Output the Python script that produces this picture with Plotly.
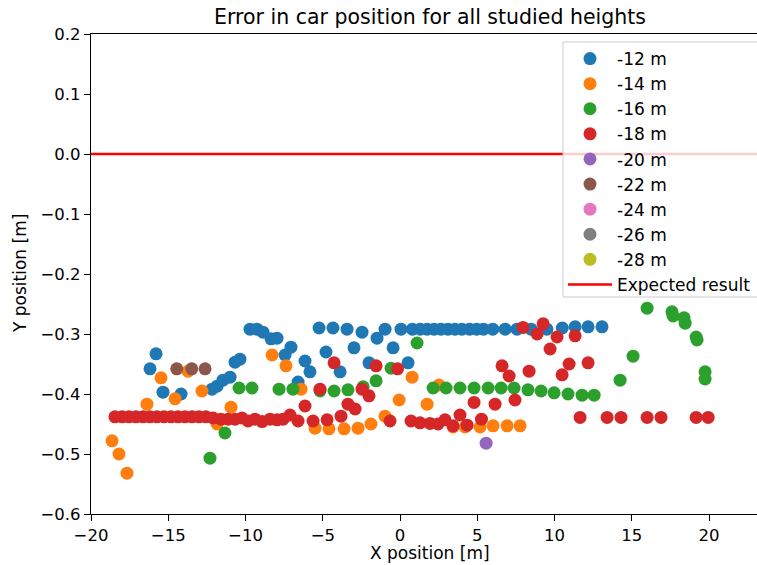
import plotly.graph_objects as go

# Car position error per studied height (metres)
x_12 = [-16.18, -15.79, -15.34, -14.17, -12.17, -11.84, -11.46, -11.0, -10.68, -10.36,
        -9.71, -9.26, -8.87, -8.35, -7.96, -7.06, -7.44, -6.15, -5.83, -6.6,
        -5.24, -4.34, -3.43, -2.46, -0.97, -1.49, 0.06, -4.79, -2.98, -0.45,
        -3.88, -2.01, 0.52, 0.8, 1.3, 1.75, 2.2, 2.65, 3.1, 3.55, 4.0, 4.5,
        4.95, 5.4, 6.0, 6.8, 7.57, 8.48, 9.5, 10.5, 11.33, 12.17, 13.07]
y_12 = [-0.358, -0.333, -0.397, -0.400, -0.392, -0.387, -0.377, -0.372, -0.347, -0.342,
        -0.292, -0.292, -0.297, -0.308, -0.307, -0.322, -0.335, -0.345, -0.363, -0.380,
        -0.290, -0.290, -0.292, -0.297, -0.292, -0.307, -0.292, -0.330, -0.323, -0.323,
        -0.363, -0.348, -0.348, -0.292, -0.292, -0.292, -0.292, -0.292, -0.292, -0.292,
        -0.292, -0.292, -0.292, -0.292, -0.292, -0.292, -0.292, -0.292, -0.292, -0.290,
        -0.288, -0.288, -0.288]

x_14 = [-18.64, -18.19, -17.67, -16.38, -15.47, -14.56, -13.72, -12.82, -11.84, -10.94,
        -8.28, -7.38, -6.41, -5.5, -4.6, -3.62, -2.72, -1.88, -0.97, -0.06,
        0.78, 1.75, 2.52, 3.43, 4.21, 5.18, 6.02, 6.93, 7.77]
y_14 = [-0.478, -0.500, -0.532, -0.417, -0.373, -0.408, -0.362, -0.395, -0.450, -0.422,
        -0.335, -0.353, -0.392, -0.457, -0.458, -0.458, -0.457, -0.450, -0.437, -0.410,
        -0.372, -0.417, -0.385, -0.455, -0.455, -0.455, -0.453, -0.453, -0.453]

x_16 = [-12.3, -11.33, -10.42, -9.58, -7.83, -6.93, -5.18, -4.27, -3.37, -2.39,
        -1.55, -0.58, 1.1, 2.14, 2.98, 3.88, 4.79, 5.7, 6.54, 7.38,
        8.28, 9.13, 9.97, 10.87, 11.78, 12.56, 14.24, 15.08, 15.99, 17.6,
        17.67, 18.38, 18.45, 19.16, 19.22, 19.74, 19.74]
y_16 = [-0.507, -0.465, -0.390, -0.390, -0.392, -0.392, -0.395, -0.395, -0.393, -0.388,
        -0.378, -0.357, -0.315, -0.390, -0.390, -0.390, -0.390, -0.390, -0.390, -0.390,
        -0.393, -0.395, -0.398, -0.400, -0.402, -0.402, -0.377, -0.337, -0.257, -0.263,
        -0.270, -0.273, -0.282, -0.305, -0.310, -0.363, -0.375]

x_18 = [-18.45, -17.99, -17.54, -17.09, -16.63, -16.18, -15.73, -15.28, -14.82, -14.37,
        -13.92, -13.46, -13.01, -12.56, -12.1, -11.59, -11.13, -10.68, -10.23, -9.84,
        -9.39, -8.93, -8.41, -7.96, -7.57, -7.12, -6.6, -6.15, -5.63, -5.18,
        -4.72, -4.27, -3.82, -3.37, -2.91, -2.46, -2.01, -1.55, -0.65, -0.16,
        0.71, 1.29, 1.94, 2.46, 2.91, 3.43, 3.88, 4.34, 4.79, 5.27,
        6.15, 6.6, 7.06, 7.44, 7.96, 8.35, 8.87, 9.26, 9.71, 10.16,
        10.49, 10.94, 11.33, 11.65, 12.17, 13.4, 14.3, 15.99, 16.89, 19.16,
        19.94]
y_18 = [-0.438, -0.438, -0.438, -0.438, -0.438, -0.438, -0.438, -0.438, -0.438, -0.438,
        -0.438, -0.438, -0.438, -0.438, -0.440, -0.442, -0.442, -0.442, -0.440, -0.445,
        -0.442, -0.446, -0.442, -0.443, -0.442, -0.435, -0.445, -0.420, -0.445, -0.392,
        -0.443, -0.348, -0.437, -0.417, -0.425, -0.392, -0.403, -0.353, -0.445, -0.358,
        -0.445, -0.448, -0.449, -0.450, -0.443, -0.453, -0.435, -0.452, -0.414, -0.442,
        -0.417, -0.353, -0.370, -0.410, -0.289, -0.362, -0.300, -0.283, -0.325, -0.305,
        -0.368, -0.350, -0.303, -0.439, -0.348, -0.439, -0.439, -0.439, -0.439, -0.439,
        -0.439]

x_20 = [5.57]
y_20 = [-0.482]

x_22 = [-14.45, -13.48, -12.62]
y_22 = [-0.358, -0.358, -0.358]

# heights with no usable measurement (kept so they appear in the legend)
x_24, y_24 = [None], [None]
x_26, y_26 = [None], [None]
x_28, y_28 = [None], [None]

expected_x = [-20, 25]
expected_y = [0.0, 0.0]

heights = ["-12 m", "-14 m", "-16 m", "-18 m", "-20 m", "-22 m", "-24 m", "-26 m", "-28 m"]
series_x = [x_12, x_14, x_16, x_18, x_20, x_22, x_24, x_26, x_28]
series_y = [y_12, y_14, y_16, y_18, y_20, y_22, y_24, y_26, y_28]
colors = ["#1f77b4", "#ff7f0e", "#2ca02c", "#d62728", "#9467bd",
          "#8c564b", "#e377c2", "#7f7f7f", "#bcbd22"]

x_ticks = [-20, -15, -10, -5, 0, 5, 10, 15, 20]
y_ticks = [0.2, 0.1, 0.0, -0.1, -0.2, -0.3, -0.4, -0.5, -0.6]


def fmt(v, decimals):
    s = f"{abs(v):.{decimals}f}"
    return ("\u2212" + s) if v < 0 else s


fig = go.Figure()
for name, xs, ys, c in zip(heights, series_x, series_y, colors):
    fig.add_trace(go.Scatter(x=xs, y=ys, mode="markers", name=name, legendgroup=name,
                             marker=dict(color=c, size=13, line=dict(width=0))))

fig.add_trace(go.Scatter(x=expected_x, y=expected_y, mode="lines", legendgroup="expected",
                         name="Expected result", line=dict(color="#ff0000", width=2.5)))

font = "DejaVu Sans"
W, H = 757, 565
L, R, T, B = 91, 0, 34, 51
pw, ph = W - L - R, H - T - B


def px_x(p):
    return (p - L) / pw


def px_y(p):
    return (H - B - p) / ph


fig.update_layout(
    width=W, height=H,
    margin=dict(l=L, r=R, t=T, b=B),
    plot_bgcolor="white", paper_bgcolor="white",
    font=dict(family=font, size=16.5, color="black"),
    title=dict(text="Error in car position for all studied heights",
               x=430 / W, xref="container", xanchor="center",
               y=1 - 17 / H, yref="container", yanchor="middle",
               font=dict(size=20.5, family=font, color="black")),
    xaxis=dict(range=[-20, 23.1], tickvals=x_ticks,
               ticktext=[fmt(v, 0) for v in x_ticks],
               showgrid=False, zeroline=False, showline=True, linecolor="black",
               linewidth=1.2, mirror=True, ticks="outside", ticklen=6, tickcolor="black",
               tickwidth=1.2, tickfont=dict(size=16.5)),
    yaxis=dict(range=[-0.6, 0.2], tickvals=y_ticks,
               ticktext=[fmt(v, 1) for v in y_ticks],
               showgrid=False, zeroline=False, showline=True, linecolor="black",
               linewidth=1.2, mirror=False, ticks="outside", ticklen=6, tickcolor="black",
               tickwidth=1.2, tickfont=dict(size=16.5)),
    legend=dict(x=px_x(563), y=px_y(41), xanchor="left", yanchor="top",
                bgcolor="rgba(0,0,0,0)", borderwidth=0, tracegroupgap=0,
                font=dict(size=17, family=font), itemwidth=44),
    showlegend=True,
    annotations=[
        dict(text="X position [m]", xref="paper", yref="paper", x=px_x(430), y=px_y(553),
             xanchor="center", yanchor="middle", showarrow=False, font=dict(size=17)),
        dict(text="Y position [m]", xref="paper", yref="paper", x=px_x(20), y=px_y(274),
             xanchor="center", yanchor="middle", showarrow=False, textangle=-90,
             font=dict(size=17)),
    ],
    shapes=[
        dict(type="rect", xref="paper", yref="paper", layer="above",
             x0=px_x(563), x1=px_x(790), y0=px_y(297), y1=px_y(42),
             fillcolor="rgba(255,255,255,0.8)", line=dict(color="#cccccc", width=1)),
    ],
)

fig.write_html("out.html")
